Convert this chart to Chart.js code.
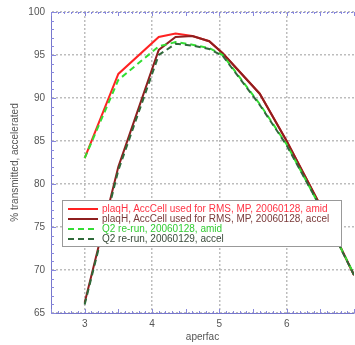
<!DOCTYPE html>
<html lang="en">
<head>
    <meta charset="UTF-8">
    <title>aperfac scan</title>
    <style>
        body { margin: 0; background: #fff; }
        .wrap { position: relative; width: 355px; height: 345px; }
        .legend {
            position: absolute; left: 62px; top: 200px; width: 280px; height: 47px;
            background: #fff; border: 1px solid #999; box-sizing: border-box;
            font: 10px "Liberation Sans", Arial, sans-serif; padding-top: 3px;
        }
        .legend div { height: 10px; line-height: 10px; white-space: nowrap; }
        .legend canvas { vertical-align: middle; margin: 0 4px 0 5px; }
    </style>
</head>
<body>
<div class="wrap">
    <canvas id="myChart" width="355" height="345"></canvas>
    <div class="legend" id="legend"></div>
</div>

<script src="https://cdn.jsdelivr.net/npm/chart.js@4.4.1/dist/chart.umd.min.js"></script>
<script>
    // aperfac values where the curves were sampled
    var aperfac = [3, 3.5, 4.1, 4.35, 4.6, 4.85, 5.05, 5.6, 6, 6.5, 7];

    var plaqAmid  = [83.0, 92.8, 97.1, 97.5, 97.2, 96.6, 95.2, 90.5, 85.0, 77.5, 69.4];
    var plaqAccel = [66.2, 82.0, 95.6, 97.1, 97.2, 96.6, 95.2, 90.5, 85.0, 77.5, 69.4];
    var q2Amid    = [83.0, 92.1, 96.0, 96.5, 96.2, 95.8, 95.0, 89.3, 84.6, 77.3, 69.5];
    var q2Accel   = [66.0, 81.6, 95.0, 96.3, 96.1, 95.7, 94.9, 89.2, 84.5, 77.3, 69.4];

    var seriesLabels = [
        'plaqH, AccCell used for RMS, MP, 20060128, amid',
        'plaqH, AccCell used for RMS, MP, 20060128, accel',
        'Q2 re-run, 20060128, amid',
        'Q2 re-run, 20060129, accel'
    ];

    var xTicks = [3, 4, 5, 6];
    var yTicks = [65, 70, 75, 80, 85, 90, 95, 100];

    var lineColors = ['#ff2222', '#8e1f1f', '#33dd33', '#2f6a3a'];
    var textColors = ['#ff3344', '#7a3a3a', '#33cc33', '#3a4a3a'];
    var dashes = [[], [], [6, 4], [6, 4]];

    function pts(ys) {
        var out = [];
        for (var i = 0; i < aperfac.length; i++) out.push({ x: aperfac[i], y: ys[i] });
        return out;
    }

    var allSeries = [plaqAmid, plaqAccel, q2Amid, q2Accel];
    var datasets = [];
    for (var i = 0; i < allSeries.length; i++) {
        datasets.push({
            label: seriesLabels[i],
            data: pts(allSeries[i]),
            borderColor: lineColors[i],
            borderWidth: 2,
            borderDash: dashes[i],
            pointRadius: 0,
            fill: false,
            tension: 0
        });
    }
    // draw the amid lines on top like the original
    datasets.reverse();

    // small blue minor ticks and the top frame line
    var minorTicks = {
        id: 'minorTicks',
        afterDraw: function (chart) {
            var ctx = chart.ctx, a = chart.chartArea;
            var xs = chart.scales.x, ys = chart.scales.y;
            ctx.save();
            ctx.strokeStyle = '#8888dd';
            ctx.lineWidth = 1;
            ctx.setLineDash([2, 2]);
            ctx.beginPath();
            ctx.moveTo(a.left, a.top + 0.5);
            ctx.lineTo(a.right, a.top + 0.5);
            ctx.stroke();
            ctx.setLineDash([]);
            ctx.beginPath();
            for (var v = 25; v <= 70; v++) {
                var px = Math.round(xs.getPixelForValue(v / 10)) + 0.5;
                var len = (v % 5 === 0) ? 4 : 2;
                ctx.moveTo(px, a.bottom); ctx.lineTo(px, a.bottom - len);
                ctx.moveTo(px, a.top); ctx.lineTo(px, a.top + len);
            }
            for (var w = 65; w <= 100; w++) {
                var py = Math.round(ys.getPixelForValue(w)) + 0.5;
                var l2 = (w % 5 === 0) ? 5 : 3;
                ctx.moveTo(a.left, py); ctx.lineTo(a.left + l2, py);
            }
            ctx.stroke();
            ctx.restore();
        }
    };

    function createChart() {
        var ctx = document.getElementById('myChart').getContext('2d');
        Chart.defaults.font.family = '"Liberation Sans", Arial, sans-serif';
        new Chart(ctx, {
            type: 'line',
            data: { datasets: datasets },
            options: {
                responsive: false,
                animation: false,
                devicePixelRatio: 1,
                layout: { padding: { top: 12, right: 1, left: 0, bottom: 0 } },
                plugins: { legend: { display: false }, tooltip: { enabled: false } },
                scales: {
                    x: {
                        type: 'linear',
                        min: 2.5,
                        max: 7,
                        afterBuildTicks: function (s) {
                            s.ticks = xTicks.map(function (v) { return { value: v }; });
                        },
                        afterFit: function (s) { s.height = 32; },
                        grid: { color: '#bdbdbd', lineWidth: 1.5, drawTicks: false },
                        border: { color: '#7777cc', dash: [2, 2] },
                        ticks: { color: '#555', font: { size: 10 }, padding: 5 },
                        title: { display: true, text: 'aperfac', color: '#555', font: { size: 10 }, padding: { top: 0, bottom: 2 } }
                    },
                    y: {
                        min: 65,
                        max: 100,
                        afterBuildTicks: function (s) {
                            s.ticks = yTicks.map(function (v) { return { value: v }; });
                        },
                        afterFit: function (s) { s.width = 51; },
                        grid: { color: '#bdbdbd', lineWidth: 1.5, drawTicks: false },
                        border: { color: '#7777cc', dash: [2, 2] },
                        ticks: { color: '#555', font: { size: 10 }, padding: 6 },
                        title: { display: true, text: '% transmitted, accelerated', color: '#555', font: { size: 10 }, padding: { top: 9, bottom: 0 } }
                    }
                }
            },
            plugins: [minorTicks]
        });
    }

    function buildLegend() {
        var box = document.getElementById('legend');
        for (var i = 0; i < seriesLabels.length; i++) {
            var row = document.createElement('div');
            var c = document.createElement('canvas');
            c.width = 30; c.height = 6;
            var g = c.getContext('2d');
            g.strokeStyle = lineColors[i];
            g.lineWidth = 2;
            g.setLineDash(dashes[i]);
            g.beginPath(); g.moveTo(0, 3); g.lineTo(30, 3); g.stroke();
            var t = document.createElement('span');
            t.style.color = textColors[i];
            t.textContent = seriesLabels[i];
            row.appendChild(c);
            row.appendChild(t);
            box.appendChild(row);
        }
    }

    createChart();
    buildLegend();
</script>
</body>
</html>
